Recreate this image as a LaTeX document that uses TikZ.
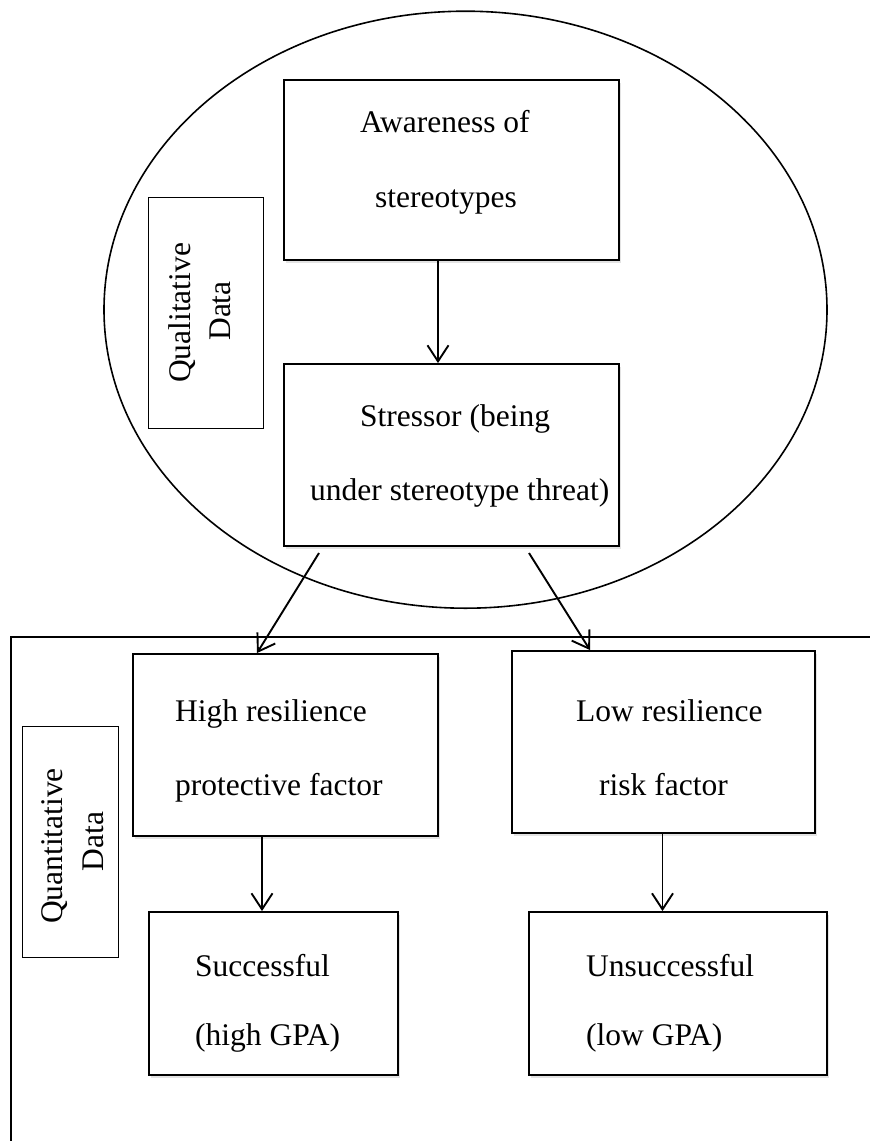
\documentclass[tikz,border=0pt]{standalone}
\usepackage{fontspec}
\setmainfont{Liberation Serif}
\usetikzlibrary{arrows.meta,shadows,shapes.geometric}
\begin{document}
\begin{tikzpicture}[x=1pt,y=-1pt,
  txt/.style={inner sep=0pt,font=\fontsize{31.5}{38}\selectfont},
  mainbox/.style={draw,line width=1.9pt,fill=white,inner sep=0pt,
    drop shadow={shadow xshift=2pt,shadow yshift=-2.5pt,opacity=0.22}},
  labelbox/.style={draw,line width=1pt,fill=white,inner sep=0pt},
  vtxt/.style={txt,rotate=90,anchor=base},
  zone/.style={ellipse,draw,line width=1.6pt,inner sep=0pt},
  frameline/.style={line width=1.7pt},
  arr/.style={line width=1.9pt,-{Straight Barb[length=16pt,width=21pt,line width=1.9pt]}}
]
\useasboundingbox (0,0) rectangle (870,1141);

% qualitative zone
\node[zone,minimum width=723pt,minimum height=597pt] (qualzone) at (465.5,309.7) {};

% quantitative frame
\coordinate (fr1) at (870,637);
\coordinate (fr2) at (11,637);
\coordinate (fr3) at (11,1141);
\draw[frameline] (fr1) -- (fr2) -- (fr3);

% boxes
\node[mainbox,minimum width=335pt,minimum height=180pt] (aware) at (451.5,170) {};
\node[mainbox,minimum width=335pt,minimum height=182pt] (stress) at (451.5,455) {};
\node[labelbox,minimum width=115pt,minimum height=231pt] (qual) at (205.5,312.5) {};
\node[mainbox,minimum width=305pt,minimum height=182pt] (high) at (285.5,745) {};
\node[mainbox,minimum width=303pt,minimum height=182pt] (low) at (663.5,742) {};
\node[labelbox,minimum width=96pt,minimum height=231pt] (quant) at (70,841.5) {};
\node[mainbox,minimum width=249pt,minimum height=163pt] (succ) at (273.5,993.5) {};
\node[mainbox,minimum width=298pt,minimum height=163pt] (unsucc) at (678,993.5) {};

% texts
\node[txt,anchor=base west] (aware1) at (360,132) {Awareness of};
\node[txt,anchor=base west] (aware2) at (375,207) {stereotypes};
\node[txt,anchor=base west] (stress1) at (360,426) {Stressor (being};
\node[txt,anchor=base west] (stress2) at (310,500) {under stereotype threat)};
\node[vtxt] (qual1) at (190,313) {Qualitative};
\node[vtxt] (qual2) at (230,311) {Data};
\node[txt,anchor=base west] (high1) at (175,721) {High resilience};
\node[txt,anchor=base west] (high2) at (175,795) {protective factor};
\node[txt,anchor=base west] (low1) at (576,721) {Low resilience};
\node[txt,anchor=base west] (low2) at (599,795) {risk factor};
\node[vtxt] (quant1) at (62,846) {Quantitative};
\node[vtxt] (quant2) at (103,841.5) {Data};
\node[txt,anchor=base west] (succ1) at (195,976) {Successful};
\node[txt,anchor=base west] (succ2) at (195,1045) {(high GPA)};
\node[txt,anchor=base west] (unsucc1) at (586,976) {Unsuccessful};
\node[txt,anchor=base west] (unsucc2) at (586,1045) {(low GPA)};

% connectors
\draw[arr] ([xshift=-13.5pt]aware.south) -- ([xshift=-13.5pt]stress.north);
\coordinate (s1) at (319,553);
\coordinate (s2) at (529,553);
\draw[arr] (s1) -- ([xshift=-28.5pt]high.north);
\draw[arr] (s2) -- ([xshift=-73.5pt]low.north);
\draw[arr] ([xshift=-23.5pt]high.south) -- ([xshift=-11.5pt]succ.north);
\draw[arr] ([xshift=-1pt]low.south) -- ([xshift=-15.5pt]unsucc.north);
\end{tikzpicture}
\end{document}
